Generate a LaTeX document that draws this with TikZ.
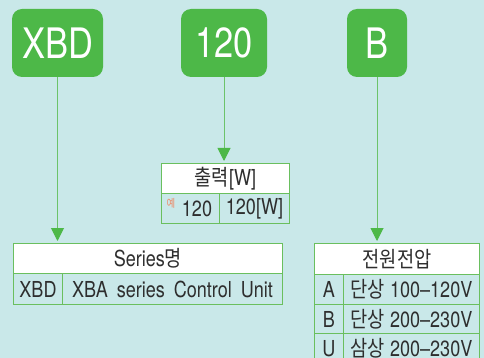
\documentclass[tikz,border=0pt]{standalone}
\usepackage{fontspec}
\setmainfont{TeX Gyre Heros}[FakeStretch=0.82]
\newfontfamily\kr{Noto Sans CJK KR}[FakeStretch=0.85]
\usetikzlibrary{arrows.meta}
\definecolor{bg}{HTML}{C9E8E9}
\definecolor{gbox}{HTML}{4DB848}
\definecolor{gline}{HTML}{6CC36A}
\definecolor{gborder}{HTML}{6ABF5E}
\definecolor{txt}{HTML}{2E2E2E}
\definecolor{exc}{HTML}{EE8866}
\newcommand{\wsp}{\hspace{9pt}}
\tikzset{
  topbox/.style={fill=gbox, rounded corners=10pt, text=white, inner sep=0pt,
    minimum height=68pt, font=\fontsize{42}{42}\selectfont},
  cell/.style={draw=gborder, line width=1pt, inner sep=0pt, anchor=north west,
    text=txt, font=\fontsize{22}{22}\selectfont},
  headcell/.style={cell, fill=white},
  conn/.style={draw=gline, line width=1pt, -{Triangle[width=13pt,length=13pt,color=gbox,fill=gbox]}, shorten >=2pt},
}
\begin{document}
\begin{tikzpicture}[x=1pt,y=-1pt]
\useasboundingbox (0,0) rectangle (484,358);
\clip (0,0) rectangle (484,358);
\fill[bg] (0,0) rectangle (484,358);

% top code boxes
\node[topbox, minimum width=91pt] (k1) at (57.5,43) {XBD};
\node[topbox, minimum width=86pt] (k2) at (224,43) {120};
\node[topbox, minimum width=60pt] (k3) at (377,43) {B};

% middle table (output)
\node[headcell, minimum width=128pt, minimum height=30pt] (t2h) at (161,163) {\kr 출력\rmfamily[W]};
\node[cell, minimum width=58pt, minimum height=30pt] (t2a) at (161,193) {};
\node[cell, minimum width=70pt, minimum height=30pt] (t2b) at (219,193) {120[W]};
\node[text=txt, font=\fontsize{22}{22}\selectfont, inner sep=0pt] (t2v) at (197,209) {120};
\node[text=exc, font=\kr\fontsize{11}{11}\selectfont, inner sep=0pt] (t2e) at (171,203) {예};

% bottom-left table (series)
\node[headcell, minimum width=269pt, minimum height=30pt] (t1h) at (13,243) {Series{\kr 명}};
\node[cell, minimum width=49pt, minimum height=31pt] (t1a) at (13,273) {XBD};
\node[cell, minimum width=220pt, minimum height=31pt] (t1b) at (62,273) {XBA\wsp series\wsp Control\wsp Unit};

% right table (voltage)
\node[headcell, minimum width=165pt, minimum height=31pt] (t3h) at (314,243) {\kr 전원전압};
\node[cell, minimum width=29pt, minimum height=30pt] (t3a1) at (314,274) {A};
\node[cell, minimum width=136pt, minimum height=30pt] (t3b1) at (343,274) {{\kr 단상} 100–120V};
\node[cell, minimum width=29pt, minimum height=29pt] (t3a2) at (314,304) {B};
\node[cell, minimum width=136pt, minimum height=29pt] (t3b2) at (343,304) {{\kr 단상} 200–230V};
\node[cell, minimum width=29pt, minimum height=30pt] (t3a3) at (314,333) {U};
\node[cell, minimum width=136pt, minimum height=30pt] (t3b3) at (343,333) {{\kr 삼상} 200–230V};

% connectors
\draw[conn] (k1.south) -- (k1.south |- t1h.north);
\draw[conn] (k2.south) -- (k2.south |- t2h.north);
\draw[conn] (k3.south) -- (k3.south |- t3h.north);
\end{tikzpicture}
\end{document}
